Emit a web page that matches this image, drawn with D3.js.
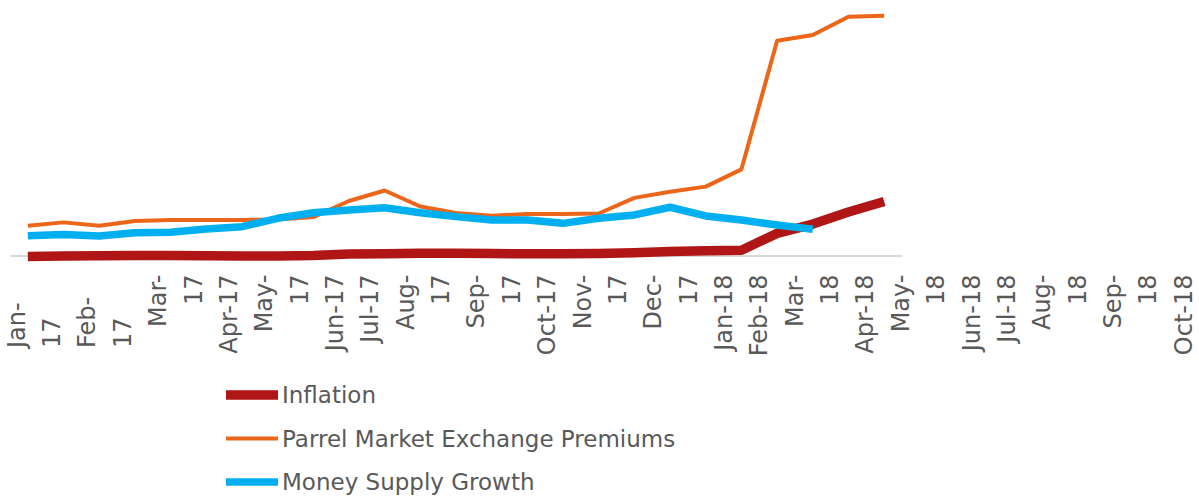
<!DOCTYPE html>
<html>
<head>
<meta charset="utf-8">
<script src="https://cdn.jsdelivr.net/npm/d3@7"></script>
<style>
    body { margin: 0; background: #fff; }
    svg { display: block; }
</style>
</head>
<body>
<div id="chart"></div>
<script>
// 25 monthly observations, no y axis shown
const periods = d3.range(25);

const inflation = [-0.4, -0.2, -0.1, 0, 0, -0.1, -0.2, -0.2, 0, 0.6, 0.7, 0.9, 0.9,
    0.8, 0.7, 0.7, 0.8, 1.1, 1.7, 2.0, 2.2, 9.2, 13.1, 18.1, 22.5];

const premiums = [12.4, 13.8, 12.4, 14.4, 14.8, 14.8, 14.8, 15.0, 16.0, 22.7, 27.1, 20.4, 17.7,
    16.6, 17.3, 17.3, 17.5, 24.0, 26.6, 28.7, 35.9, 89.5, 91.9, 99.5, 99.9];

const moneySupply = [8.25, 8.8, 8.1, 9.5, 9.7, 11.0, 12.0, 15.5, 17.8, 19.0, 19.9, 17.8, 16.2,
    14.8, 14.8, 13.4, 15.5, 16.9, 20.1, 16.5, 14.8, 12.7, 10.9];

// tick labels as they wrap in the original
const tickLabels = [
    ["Jan-", "17"], ["Feb-", "17"], ["Mar-", "17"], ["Apr-17"], ["May-", "17"], ["Jun-17"],
    ["Jul-17"], ["Aug-", "17"], ["Sep-", "17"], ["Oct-17"], ["Nov-", "17"], ["Dec-", "17"],
    ["Jan-18"], ["Feb-18"], ["Mar-", "18"], ["Apr-18"], ["May-", "18"], ["Jun-18"],
    ["Jul-18"], ["Aug-", "18"], ["Sep-", "18"], ["Oct-18"]
];

const seriesNames = ["Inflation", "Parrel Market Exchange Premiums", "Money Supply Growth"];

const W = 1199, H = 498;
const textColor = "#595959";
const font = "'DejaVu Sans', Verdana, sans-serif";

const series = [
    { name: seriesNames[0], values: inflation, color: "#AF1615", width: 9.5 },
    { name: seriesNames[1], values: premiums, color: "#EC6619", width: 4 },
    { name: seriesNames[2], values: moneySupply, color: "#00AFEF", width: 7.5 }
];

const svg = d3.select("#chart")
    .append("svg")
    .attr("width", W)
    .attr("height", H);

const x = d3.scalePoint()
    .domain(periods)
    .range([10, 902])
    .padding(0.5);

const y = d3.scaleLinear()
    .domain([0, 100])
    .range([255.5, 15.5]);

// axis line only
svg.append("g")
    .attr("transform", `translate(0,${y(0)})`)
    .call(d3.axisBottom(x).tickSize(0).tickSizeOuter(0).tickFormat(""))
    .call(g => g.select(".domain").attr("stroke", "#D9D9D9").attr("stroke-width", 2));

const line = d3.line()
    .x((d, i) => x(periods[i]))
    .y(d => y(d));

svg.selectAll(".series")
    .data(series)
    .enter()
    .append("path")
    .attr("class", "series")
    .attr("fill", "none")
    .attr("stroke", d => d.color)
    .attr("stroke-width", d => d.width)
    .attr("stroke-linejoin", "round")
    .attr("d", d => line(d.values));

// the labels' lines flow along the axis one slot each
const labelLines = [];
tickLabels.forEach((lines, li) => {
    lines.forEach(t => labelLines.push({ text: t, label: li, slot: labelLines.length }));
});

const slotX = d3.scalePoint()
    .domain(labelLines.map(d => d.slot))
    .range([17, 1184]);

const bottomAligned = new Set([0, 1]); // first two labels sit lower in the original

svg.append("g")
    .selectAll("text")
    .data(labelLines)
    .enter()
    .append("text")
    .attr("transform", d => `translate(${slotX(d.slot)},${bottomAligned.has(d.label) ? 348 : 274.5}) rotate(-90)`)
    .attr("text-anchor", d => bottomAligned.has(d.label) ? "start" : "end")
    .attr("dy", "0.32em")
    .attr("fill", textColor)
    .style("font-family", font)
    .style("font-size", "24px")
    .text(d => d.text);

// legend
const legendY = d3.scalePoint()
    .domain(seriesNames)
    .range([395, 482]);

const legend = svg.selectAll(".legend")
    .data(series)
    .enter()
    .append("g")
    .attr("class", "legend")
    .attr("transform", d => `translate(226,${legendY(d.name)})`);

legend.append("line")
    .attr("x1", 0)
    .attr("x2", 52)
    .attr("stroke", d => d.color)
    .attr("stroke-width", d => d.width);

legend.append("text")
    .attr("x", 56)
    .attr("dy", "0.36em")
    .attr("fill", textColor)
    .style("font-family", font)
    .style("font-size", "23px")
    .text(d => d.name);
</script>
</body>
</html>
